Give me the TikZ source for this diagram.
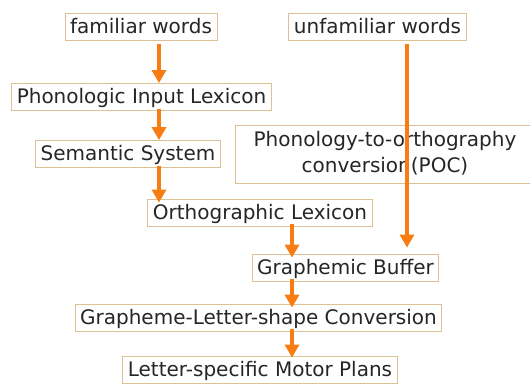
\documentclass[tikz,border=0pt]{standalone}
\usepackage{fontspec}
\setmainfont{DejaVu Sans}
\usetikzlibrary{arrows.meta}
\definecolor{boxline}{RGB}{222,192,150}
\definecolor{flow}{RGB}{247,124,18}
\tikzset{
  stage/.style={rectangle,draw=boxline,line width=0.8pt,fill=white,inner xsep=5pt,inner ysep=1pt,
    minimum height=27pt,font=\fontsize{20}{26}\selectfont,text=black!85},
  oneline/.style={text height=15pt,text depth=2pt},
  flowarrow/.style={draw=flow,line width=3.8pt,-{Triangle[length=13pt,width=14pt]}}
}
\begin{document}
\begin{tikzpicture}[x=1pt,y=-1pt]
\useasboundingbox (0,0) rectangle (530,383);
\coordinate (A) at (141,26.5);
\coordinate (B) at (377.5,26.5);
\coordinate (C) at (141.5,97);
\coordinate (D) at (128,154);
\coordinate (E) at (385,154);
\coordinate (F) at (260,212.5);
\coordinate (G) at (345.5,267.5);
\coordinate (H) at (258.5,317.5);
\coordinate (I) at (260,369.5);
\coordinate (X1) at (159,0);
\coordinate (X2) at (292,0);
\coordinate (X3) at (407,0);

\node[stage,minimum width=300pt,minimum height=58pt] (E1) at (E) {\begin{tabular}{@{}c@{}}Phonology-to-orthography\\conversion(POC)\end{tabular}};
\node[stage,oneline] (A1) at (A) {familiar words};
\node[stage,oneline] (B1) at (B) {unfamiliar words};
\node[stage,oneline] (C1) at (C) {Phonologic Input Lexicon};
\node[stage,oneline] (D1) at (D) {Semantic System};
\node[stage,oneline] (F1) at (F) {Orthographic Lexicon};
\node[stage,oneline] (G1) at (G) {Graphemic Buffer};
\node[stage,oneline] (H1) at (H) {Grapheme-Letter-shape Conversion};
\node[stage,oneline] (I1) at (I) {Letter-specific Motor Plans};

\draw[flowarrow,shorten <=4pt] (A1.south -| X1) -- (C1.north -| X1);
\draw[flowarrow,shorten <=-2pt] (C1.south -| X1) -- (D1.north -| X1);
\draw[flowarrow,shorten <=-2pt,shorten >=-4pt] (D1.south -| X1) -- (F1.north -| X1);
\draw[flowarrow,shorten <=-2pt,shorten >=-4pt] (F1.south -| X2) -- (G1.north -| X2);
\draw[flowarrow,shorten <=-2pt,shorten >=-4pt] (G1.south -| X2) -- (H1.north -| X2);
\draw[flowarrow,shorten <=-2pt,shorten >=-2pt] (H1.south -| X2) -- (I1.north -| X2);
\draw[flowarrow,shorten <=4pt,shorten >=6pt] (B1.south -| X3) -- (G1.north -| X3);

\end{tikzpicture}
\end{document}
